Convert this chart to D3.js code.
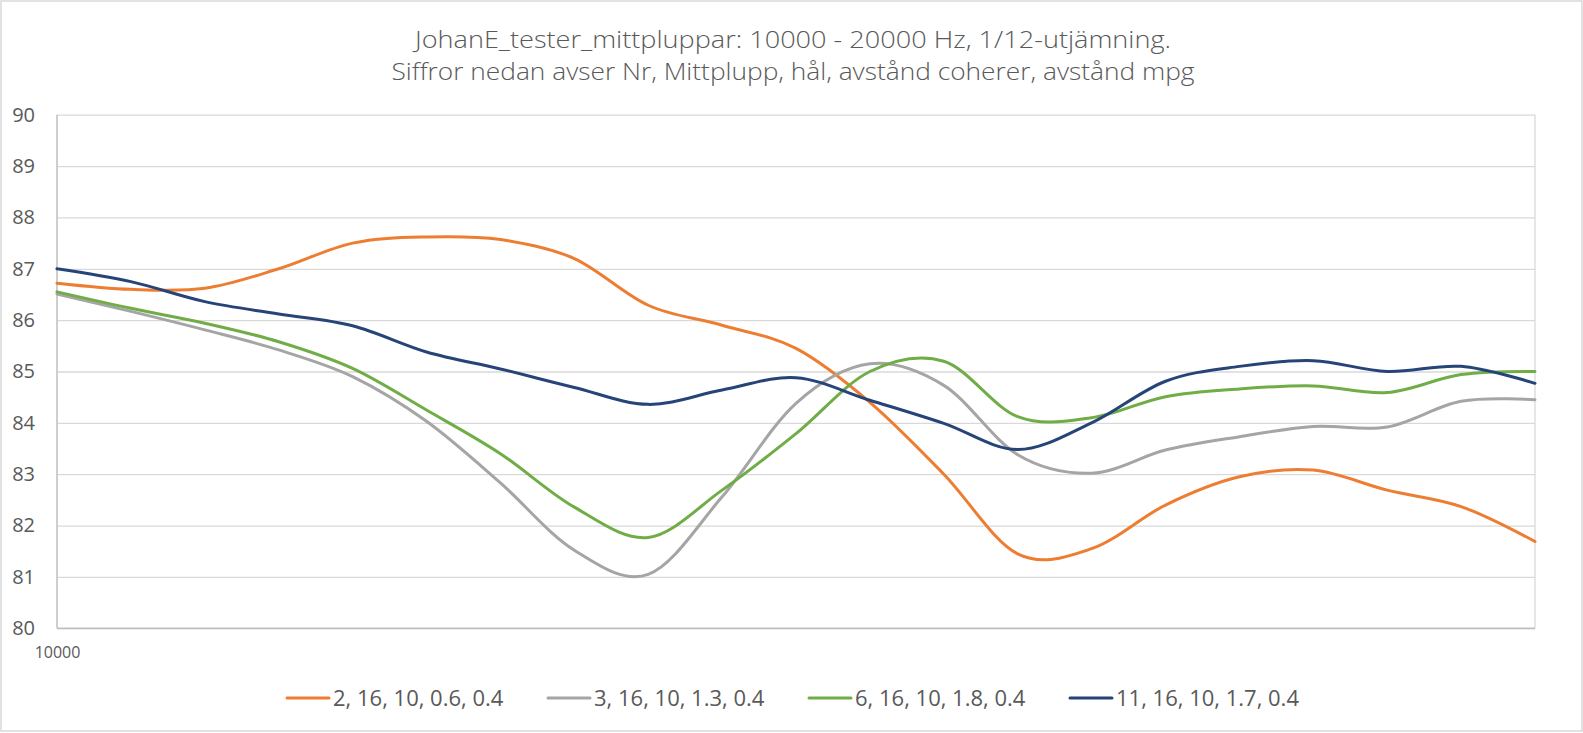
<!DOCTYPE html>
<html>
<head>
<meta charset="utf-8">
<script src="https://cdn.jsdelivr.net/npm/d3@7"></script>
<style>
  html, body { margin: 0; padding: 0; background: #fff; }
  svg { display: block; }
  text { font-family: "Open Sans", "Noto Sans", sans-serif; fill: #595959; }
</style>
</head>
<body>
<svg id="chart" width="1583" height="733"></svg>
<script>
// ---------- data ----------
const titleLines = [
  "JohanE_tester_mittpluppar: 10000 - 20000 Hz, 1/12-utjämning.",
  "Siffror nedan avser Nr, Mittplupp, hål, avstånd coherer, avstånd mpg"
];
const freqs = [10000, 10500, 11000, 11500, 12000, 12500, 13000, 13500, 14000, 14500,
               15000, 15500, 16000, 16500, 17000, 17500, 18000, 18500, 19000, 19500, 20000];
const seriesNames = ["2, 16, 10, 0.6, 0.4", "3, 16, 10, 1.3, 0.4", "6, 16, 10, 1.8, 0.4", "11, 16, 10, 1.7, 0.4"];
const s2  = [86.72, 86.60, 86.62, 87.00, 87.50, 87.62, 87.57, 87.20, 86.29, 85.90, 85.45,
             84.40, 83.00, 81.45, 81.55, 82.40, 82.95, 83.08, 82.69, 82.37, 81.69];
const s3  = [86.51, 86.17, 85.81, 85.42, 84.90, 84.03, 82.83, 81.52, 81.05, 82.56, 84.38,
             85.15, 84.73, 83.38, 83.02, 83.47, 83.73, 83.93, 83.92, 84.42, 84.45];
const s6  = [86.55, 86.23, 85.94, 85.58, 85.06, 84.25, 83.40, 82.36, 81.77, 82.69, 83.79,
             85.00, 85.20, 84.12, 84.10, 84.51, 84.66, 84.72, 84.59, 84.94, 85.00];
const s11 = [87.00, 86.75, 86.36, 86.12, 85.89, 85.38, 85.05, 84.69, 84.36, 84.64, 84.88,
             84.44, 83.99, 83.48, 84.00, 84.81, 85.10, 85.21, 85.00, 85.10, 84.77];
const yTicks = [80, 81, 82, 83, 84, 85, 86, 87, 88, 89, 90];
const xTicks = [10000];
const colors = ["#ED7D31", "#A5A5A5", "#70AD47", "#264478"];

// ---------- layout ----------
const svg = d3.select("#chart");
const W = 1583, H = 733;
const plot = { left: 57, right: 1535, top: 114.7, bottom: 628.3 };

svg.append("rect").attr("x", 1).attr("y", 1).attr("width", W - 2).attr("height", H - 3)
  .attr("fill", "#fff").attr("stroke", "#D9D9D9").attr("stroke-width", 1.5);

const x = d3.scaleLinear().domain([10000, 20000]).range([plot.left, plot.right]);
const y = d3.scaleLinear().domain([80, 90]).range([plot.bottom, plot.top]);

// gridlines
const grid = svg.append("g").attr("transform", `translate(${plot.left},0)`)
  .call(d3.axisLeft(y).tickValues(yTicks).tickSize(-(plot.right - plot.left)).tickFormat(""));
grid.select(".domain").remove();
grid.selectAll("line").attr("stroke", "#D9D9D9").attr("stroke-width", 1.3);

// right border of plot
svg.append("line").attr("x1", plot.right).attr("x2", plot.right)
  .attr("y1", plot.top).attr("y2", plot.bottom).attr("stroke", "#D9D9D9").attr("stroke-width", 1.3);

// y axis labels
const yAxis = svg.append("g").attr("transform", `translate(${plot.left},0)`)
  .call(d3.axisLeft(y).tickValues(yTicks).tickSize(0).tickPadding(22).tickFormat(d3.format("d")));
yAxis.select(".domain").remove();
yAxis.selectAll("text").attr("font-size", 20).attr("fill", "#595959")
  .style("font-family", '"Open Sans", sans-serif');

// x axis
const xAxis = svg.append("g").attr("transform", `translate(0,${plot.bottom})`)
  .call(d3.axisBottom(x).tickValues(xTicks).tickSize(0).tickPadding(18).tickFormat(d3.format("d")));
xAxis.select(".domain").remove();
xAxis.selectAll("text").attr("font-size", 16).attr("fill", "#595959")
  .style("font-family", '"Open Sans", sans-serif');

// axis lines
svg.append("line").attr("x1", plot.left).attr("x2", plot.left)
  .attr("y1", plot.top).attr("y2", plot.bottom).attr("stroke", "#BFBFBF").attr("stroke-width", 1.5);
svg.append("line").attr("x1", plot.left).attr("x2", plot.right)
  .attr("y1", plot.bottom).attr("y2", plot.bottom).attr("stroke", "#BFBFBF").attr("stroke-width", 1.5);

// series
const allSeries = [s2, s3, s6, s11];
const line = d3.line().x((d, i) => x(freqs[i])).y(d => y(d)).curve(d3.curveCardinal.tension(0));
allSeries.forEach((s, k) => {
  svg.append("path").datum(s).attr("d", line).attr("fill", "none")
    .attr("stroke", colors[k]).attr("stroke-width", 3)
    .attr("stroke-linejoin", "round").attr("stroke-linecap", "round");
});

// title
const titleX = 793;
const titleY = [48, 80];
const titleLen = [756, 803];
titleLines.forEach((t, i) => {
  svg.append("text").attr("x", titleX).attr("y", titleY[i]).attr("text-anchor", "middle")
    .attr("font-size", 23).attr("font-weight", 300)
    .attr("textLength", titleLen[i]).attr("lengthAdjust", "spacingAndGlyphs")
    .text(t);
});

// legend
const legendStart = [287, 548, 809, 1070];
const legendY = 698;
seriesNames.forEach((name, k) => {
  const g = svg.append("g").attr("transform", `translate(${legendStart[k]},${legendY})`);
  g.append("line").attr("x1", 0).attr("x2", 42).attr("y1", 0).attr("y2", 0)
    .attr("stroke", colors[k]).attr("stroke-width", 3).attr("stroke-linecap", "round");
  g.append("text").attr("x", 46).attr("y", 0).attr("dy", "0.35em")
    .attr("font-size", 22).text(name);
});
</script>
</body>
</html>
